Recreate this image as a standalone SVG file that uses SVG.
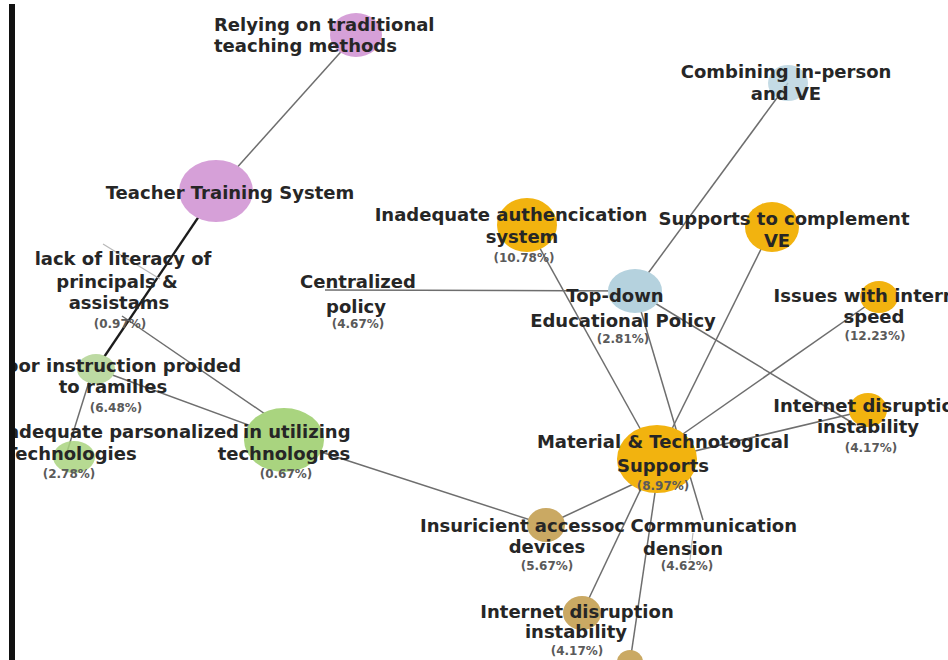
<svg xmlns="http://www.w3.org/2000/svg" width="948" height="660" viewBox="0 0 948 660">
<style>
.lbl{font-family:"DejaVu Sans","Liberation Sans",sans-serif;font-weight:bold;font-size:18px;fill:#262626;text-anchor:middle}
.st{text-anchor:start}
.en{text-anchor:end}
.pct{font-family:"DejaVu Sans","Liberation Sans",sans-serif;font-weight:bold;font-size:12px;fill:#5a5a5a;text-anchor:middle}
.edge{stroke:#6e6e6e;stroke-width:1.5;fill:none}
.faint{stroke:#b8b8b8;stroke-width:1.2;fill:none}
.thick{stroke:#1c1c1c;stroke-width:2.3;fill:none}
.pink{fill:#d6a0d8}
.blue{fill:#b5d2de}
.orange{fill:#f2b30f}
.tan{fill:#caa963}
.green{fill:#a9d47f}
.lgreen{fill:#bddaa3}
</style>
<rect x="0" y="0" width="948" height="660" fill="#ffffff"/>
<g id="connectors">
<line class="edge" x1="216" y1="191" x2="356" y2="35"/>
<line class="thick" x1="216" y1="191" x2="96" y2="369"/>
<line class="faint" x1="103" y1="244" x2="160" y2="279"/>
<line class="edge" x1="122" y1="316" x2="284" y2="427"/>
<line class="edge" x1="96" y1="369" x2="284" y2="438"/>
<line class="edge" x1="93" y1="369" x2="67" y2="452"/>
<line class="edge" x1="284" y1="440" x2="546" y2="525"/>
<line class="edge" x1="325" y1="290" x2="635" y2="291"/>
<line class="edge" x1="635" y1="291" x2="788" y2="83"/>
<line class="edge" x1="527" y1="225" x2="657" y2="459"/>
<line class="edge" x1="635" y1="291" x2="703" y2="520"/>
<line class="edge" x1="772" y1="227" x2="657" y2="459"/>
<line class="edge" x1="635" y1="291" x2="856" y2="425"/>
<line class="edge" x1="660" y1="450" x2="879" y2="297"/>
<line class="edge" x1="657" y1="460" x2="868" y2="410"/>
<line class="edge" x1="657" y1="473" x2="546" y2="525"/>
<line class="edge" x1="655" y1="459" x2="582" y2="613"/>
<line class="edge" x1="660" y1="459" x2="630" y2="662"/>
<line class="faint" x1="693" y1="533" x2="690" y2="560"/>
</g>
<g id="n-relying">
<ellipse class="pink" cx="356" cy="35" rx="26" ry="22"/>
<text class="lbl st" x="214" y="31">Relying on traditional</text>
<text class="lbl st" x="214" y="52">teaching methods</text>
</g>
<g id="n-teacher-training">
<ellipse class="pink" cx="216" cy="191" rx="37" ry="31"/>
<text class="lbl" x="230" y="199">Teacher Training System</text>
</g>
<g id="n-lack-literacy">
<text class="lbl" x="123" y="265">lack of literacy of</text>
<text class="lbl" x="117" y="288">principals &amp;</text>
<text class="lbl" x="119" y="309">assistams</text>
<text class="pct" x="120" y="328">(0.97%)</text>
</g>
<g id="n-poor-instruction">
<ellipse class="lgreen" cx="96" cy="369" rx="19" ry="15"/>
<text class="lbl" x="117" y="372">Poor instruction proided</text>
<text class="lbl" x="113" y="393">to ramilles</text>
<text class="pct" x="116" y="412">(6.48%)</text>
</g>
<g id="n-inadequate-personalized">
<ellipse class="green" cx="74" cy="457" rx="21" ry="16" opacity="0.85"/>
<text class="lbl en" x="239" y="438">Inadequate parsonalized</text>
<text class="lbl" x="71" y="460">Technologies</text>
<text class="pct" x="69" y="478">(2.78%)</text>
</g>
<g id="n-utilizing">
<ellipse class="green" cx="284" cy="440" rx="40" ry="32"/>
<text class="lbl st" x="243" y="438">in utilizing</text>
<text class="lbl" x="284" y="460">technologres</text>
<text class="pct" x="286" y="478">(0.67%)</text>
</g>
<g id="n-centralized">
<text class="lbl" x="358" y="288">Centralized</text>
<text class="lbl" x="356" y="313">policy</text>
<text class="pct" x="358" y="328">(4.67%)</text>
</g>
<g id="n-combining">
<ellipse class="blue" cx="788" cy="83" rx="20" ry="18" opacity="0.8"/>
<text class="lbl" x="786" y="78">Combining in-person</text>
<text class="lbl" x="786" y="100">and VE</text>
</g>
<g id="n-authentication">
<ellipse class="orange" cx="527" cy="225" rx="30" ry="27"/>
<text class="lbl" x="511" y="221">Inadequate authencication</text>
<text class="lbl" x="522" y="243">system</text>
<text class="pct" x="524" y="262">(10.78%)</text>
</g>
<g id="n-supports-ve">
<ellipse class="orange" cx="772" cy="227" rx="27" ry="25"/>
<text class="lbl" x="784" y="225">Supports to complement</text>
<text class="lbl" x="777" y="247">VE</text>
</g>
<g id="n-top-down">
<ellipse class="blue" cx="635" cy="291" rx="27" ry="22"/>
<text class="lbl" x="615" y="302">Top-down</text>
<text class="lbl" x="623" y="327">Educational Policy</text>
<text class="pct" x="623" y="343">(2.81%)</text>
</g>
<g id="n-issues-speed">
<ellipse class="orange" cx="879" cy="297" rx="19" ry="16"/>
<text class="lbl" x="875" y="302">Issues with internet</text>
<text class="lbl" x="874" y="323">speed</text>
<text class="pct" x="875" y="340">(12.23%)</text>
</g>
<g id="n-internet-right">
<ellipse class="orange" cx="868" cy="410" rx="19" ry="17"/>
<text class="lbl" x="870" y="412">Internet disruption</text>
<text class="lbl" x="868" y="433">instability</text>
<text class="pct" x="871" y="452">(4.17%)</text>
</g>
<g id="n-material">
<ellipse class="orange" cx="657" cy="459" rx="40" ry="34"/>
<text class="lbl" x="663" y="448">Material &amp; Technotogical</text>
<text class="lbl" x="663" y="472">Supports</text>
<text class="pct" x="663" y="490">(8.97%)</text>
</g>
<g id="n-insufficient">
<ellipse class="tan" cx="546" cy="525" rx="19" ry="17"/>
<text class="lbl st" x="420" y="532">Insuricient accessoc</text>
<text class="lbl" x="547" y="553">devices</text>
<text class="pct" x="547" y="570">(5.67%)</text>
</g>
<g id="n-communication">
<text class="lbl en" x="797" y="532">Cormmunication</text>
<text class="lbl" x="683" y="555">dension</text>
<text class="pct" x="687" y="570">(4.62%)</text>
</g>
<g id="n-internet-bottom">
<ellipse class="tan" cx="582" cy="613" rx="19" ry="17"/>
<text class="lbl" x="577" y="618">Internet disruption</text>
<text class="lbl" x="576" y="638">instability</text>
<text class="pct" x="577" y="655">(4.17%)</text>
</g>
<g id="n-bottom">
<ellipse class="tan" cx="630" cy="662" rx="13" ry="12"/>
</g>
<rect x="0" y="0" width="9" height="660" fill="#ffffff"/>
<rect x="9" y="4" width="6" height="656" fill="#111111"/>
</svg>
